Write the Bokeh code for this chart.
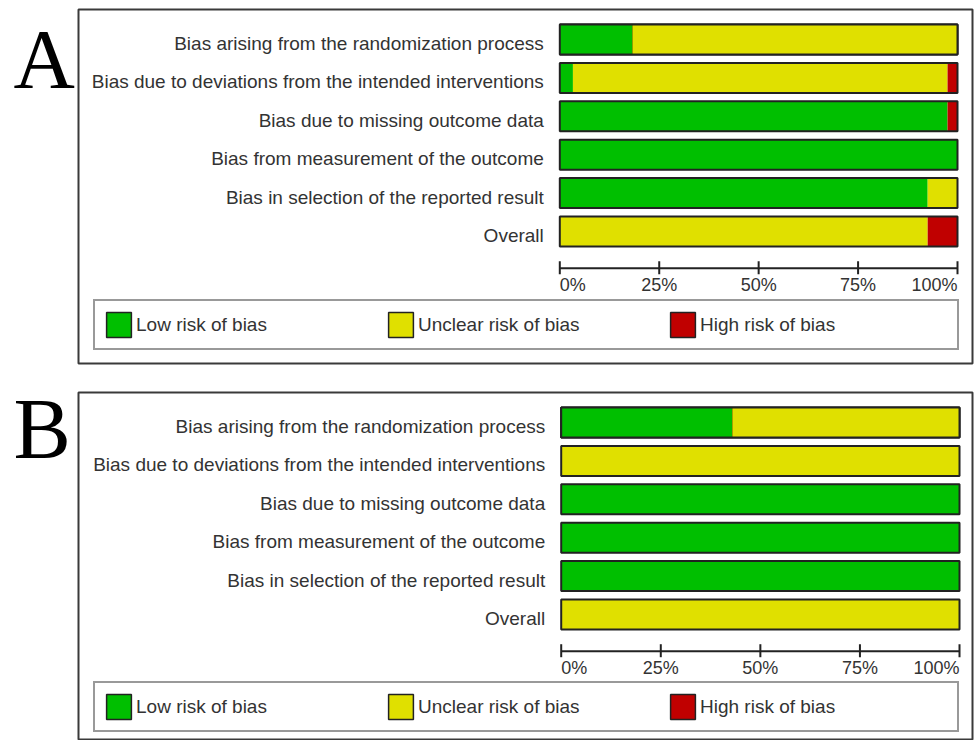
from bokeh.plotting import figure
from bokeh.models import (ColumnDataSource, Range1d, Legend, LegendItem,
                          CDSView, IndexFilter)
from bokeh.layouts import column, row
from bokeh.embed import file_html
from bokeh.resources import INLINE
from bokeh.core.properties import value

# Risk-of-bias domains, top to bottom
domains = [
    "Bias arising from the randomization process",
    "Bias due to deviations from the intended interventions",
    "Bias due to missing outcome data",
    "Bias from measurement of the outcome",
    "Bias in selection of the reported result",
    "Overall",
]
judgements = ["Low risk of bias", "Unclear risk of bias", "High risk of bias"]

# Panel A: percentage of studies per judgement
a_low = [18.3, 3.3, 97.5, 100.0, 92.5, 0.0]
a_unclear = [81.7, 94.2, 0.0, 0.0, 7.5, 92.5]
a_high = [0.0, 2.5, 2.5, 0.0, 0.0, 7.5]

# Panel B: percentage of studies per judgement
b_low = [43.0, 0.0, 100.0, 100.0, 100.0, 0.0]
b_unclear = [57.0, 100.0, 0.0, 0.0, 0.0, 100.0]
b_high = [0.0, 0.0, 0.0, 0.0, 0.0, 0.0]

tick_values = [0, 25, 50, 75, 100]
tick_labels = ["0%", "25%", "50%", "75%", "100%"]

COLORS = ["#00bf00", "#e0e000", "#c00000"]
EDGE = "#222222"
TEXT = "#333333"
FONT = value("Liberation Sans")
ROW_H = 0.78          # bar thickness in row units
AXIS_ROW = 5.956      # row coordinate of the percentage axis
LETTER_W = 77         # width of the strip holding the panel letter


def letter_strip(letter, height, centre, size):
    s = figure(width=LETTER_W, height=height, output_backend="svg",
               toolbar_location=None, x_axis_type=None, y_axis_type=None,
               min_border=0, outline_line_color=None)
    s.x_range = Range1d(0, LETTER_W)
    s.y_range = Range1d(height, 0)
    s.text(x=[13], y=[centre], text=[letter],
           text_font=value("Liberation Serif"), text_font_size=size,
           text_baseline="middle", text_align="left", text_color="black")
    return s


def make_panel(low, unclear, high, x_start, x_end, height,
               top, bottom, y_bottom, legend_y):
    p = figure(width=974 - LETTER_W, height=height, output_backend="svg",
               toolbar_location=None, x_axis_type=None, y_axis_type=None,
               min_border_left=1, min_border_right=2,
               min_border_top=top, min_border_bottom=bottom)
    p.x_range = Range1d(x_start, x_end)
    p.y_range = Range1d(y_bottom, -0.78125)
    p.outline_line_color = "#3a3a3a"
    p.outline_line_width = 2
    p.background_fill_color = "white"
    p.border_fill_color = "white"

    rows = list(range(len(domains)))
    src = ColumnDataSource(dict(
        row=rows, domain=domains, low=low, unclear=unclear, high=high,
        total=[l + u + h for l, u, h in zip(low, unclear, high)],
        zero=[0] * len(rows)))

    # outlined legend swatches; they sit underneath the first bar and are
    # fully covered by it, so only their legend entries show
    under = CDSView(filter=IndexFilter(indices=[0]))
    proxies = [p.hbar(y="row", left="zero", right="total", height=ROW_H,
                      source=src, view=under, fill_color=c, level="underlay",
                      line_color=EDGE, line_width=1.5) for c in COLORS]

    # stacked judgement segments
    p.hbar_stack(["low", "unclear", "high"], y="row", height=ROW_H,
                 color=COLORS, source=src, line_color=None)
    # dark frame around each whole bar
    p.hbar(y="row", left="zero", right="total", height=ROW_H, source=src,
           fill_color=None, line_color=EDGE, line_width=2)

    # domain labels, right-aligned against the bars
    p.text(x="zero", y="row", text="domain", source=src,
           text_align="right", text_baseline="middle",
           x_offset=-16, y_offset=4, text_font=FONT,
           text_font_size="19px", text_color=TEXT)

    # percentage axis
    p.segment(x0=[tick_values[0]], x1=[tick_values[-1]],
              y0=[AXIS_ROW], y1=[AXIS_ROW], line_color=EDGE, line_width=2)
    p.segment(x0=tick_values, x1=tick_values,
              y0=[AXIS_ROW - 7 / 38.4] * len(tick_values),
              y1=[AXIS_ROW + 6 / 38.4] * len(tick_values),
              line_color=EDGE, line_width=2)
    groups = [(slice(0, 1), "left"), (slice(1, 4), "center"), (slice(4, 5), "right")]
    for sl, align in groups:
        tv = tick_values[sl]
        p.text(x=tv, y=[AXIS_ROW] * len(tv), text=tick_labels[sl],
               text_align=align, text_baseline="middle", y_offset=17,
               text_font=FONT, text_font_size="18px", text_color=TEXT)

    legend = Legend(
        items=[LegendItem(label=j, renderers=[r]) for j, r in zip(judgements, proxies)],
        location=(15, legend_y), orientation="horizontal",
        glyph_width=31, glyph_height=31, label_standoff=2, label_width=249,
        spacing=0, padding=8, margin=0,
        border_line_color="#333333", border_line_width=2,
        background_fill_color="white", background_fill_alpha=1,
        label_text_font="Liberation Sans", label_text_font_size="19px",
        label_text_color=TEXT)
    p.add_layout(legend)
    return p


pa = make_panel(a_low, a_unclear, a_high, -121.02, 103.77, 365,
                9, 2, 8.4375, 13)
pb = make_panel(b_low, b_unclear, b_high, -121.19, 103.26, 375,
                27, 0, 8.28125, 8)

la = letter_strip("A", 365, 51, "85px")
lb = letter_strip("B", 375, 39, "86px")

layout = column(row(la, pa, spacing=0), row(lb, pb, spacing=0), spacing=0)
open("out.html", "w").write(file_html(layout, INLINE))
